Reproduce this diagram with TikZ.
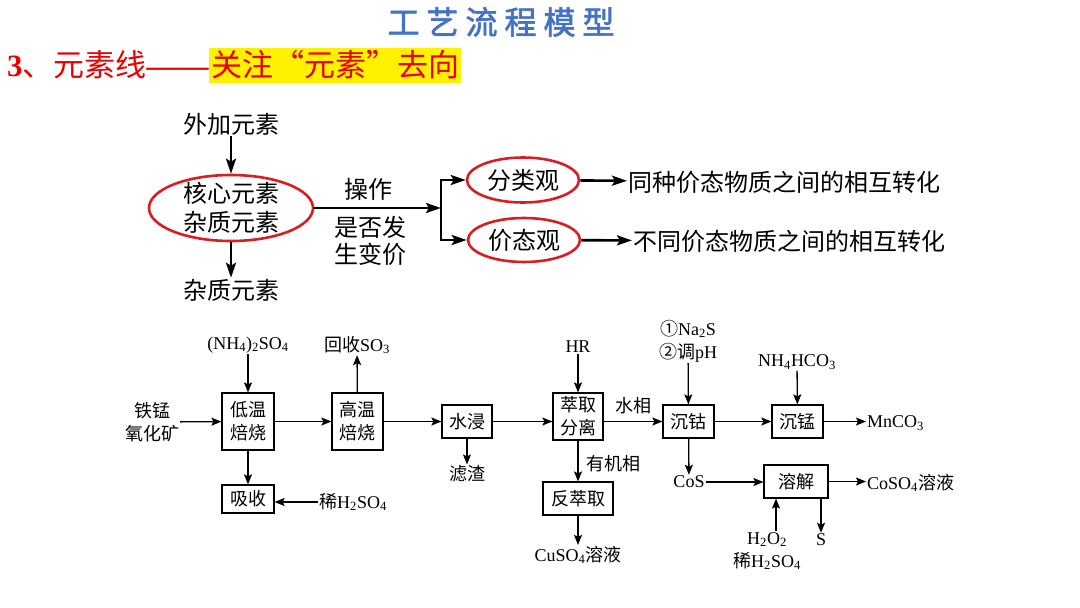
\documentclass[tikz,border=0pt]{standalone}
\usepackage{fontspec}
\setmainfont{Liberation Serif}
\newfontfamily\cjk{Noto Sans CJK SC}
\newfontfamily\titlefont{Noto Sans CJK SC}[FakeBold=2]
\usetikzlibrary{arrows.meta,shapes.geometric}
\newcommand\sbs[1]{\textsubscript{#1}}
\newcommand\fm[1]{{\rmfamily #1}}
\definecolor{titleblue}{RGB}{68,114,196}
\definecolor{ellred}{RGB}{215,30,35}
\definecolor{headred}{RGB}{235,0,0}
\tikzset{
  bigtxt/.style={font=\cjk\fontsize{24}{29}\selectfont, align=center, inner sep=1pt},
  smtxt/.style={font=\cjk\fontsize{18}{23}\selectfont, align=center, inner sep=1pt},
  redell/.style={ellipse, draw=ellred, line width=2.6pt, inner sep=0pt},
  bigarr/.style={line width=2.6pt, -{Stealth[length=15pt,width=10pt,inset=3pt]}},
  procbox/.style={draw, line width=1.2pt, smtxt, inner sep=0pt},
  arr/.style={line width=1.3pt, -{Stealth[length=10pt,width=8pt,inset=2pt]}},
}
\begin{document}
\begin{tikzpicture}[x=1pt,y=-1pt]
\useasboundingbox (0,0) rectangle (1080,608);
\fill[white] (0,0) rectangle (1080,608);

% title and heading
\node[font=\titlefont\fontsize{32}{36}\selectfont, text=titleblue, inner sep=0pt] (title) at (501,22)
  {工\hspace{7pt}艺\hspace{7pt}流\hspace{7pt}程\hspace{7pt}模\hspace{7pt}型};
\node[anchor=west, font=\cjk\fontsize{31}{34}\selectfont, text=headred, inner sep=0pt] (head) at (7,65)
  {\textbf{\rmfamily 3}、元素线{\rmfamily\bfseries ——}};
\node[anchor=west, font=\cjk\fontsize{31}{34}\selectfont, text=headred, fill=yellow,
  inner xsep=2pt, inner ysep=0pt, minimum height=35pt] (headhl) at (head.east) {关注“元素”去向};

% top concept diagram
\node[bigtxt] (wj) at (231,124) {外加元素};
\node[redell, minimum width=164pt, minimum height=66pt] (core) at (231,208) {};
\node[bigtxt] (coretxt) at (core) {核心元素\\杂质元素};
\node[bigtxt] (zz) at (231,290) {杂质元素};
\draw[bigarr] (wj) -- (core);
\draw[bigarr] (core) -- (zz);
\coordinate (br) at (441,208);
\draw[bigarr] (core) -- (br);
\node[bigtxt] (cz) at (368,189) {操作};
\node[bigtxt, font=\cjk\fontsize{24}{27}\selectfont] (sf) at (370,241) {是否发\\生变价};

\node[redell, minimum width=112pt, minimum height=45pt] (fl) at (523,180) {};
\node[bigtxt] (fltxt) at (fl) {分类观};
\node[redell, minimum width=112pt, minimum height=44pt] (jt) at (524,240) {};
\node[bigtxt] (jttxt) at (jt) {价态观};
\draw[bigarr] (br) |- (fl);
\draw[bigarr] (br) |- (jt);
\node[bigtxt, anchor=west] (t1) at (627,182) {同种价态物质之间的相互转化};
\node[bigtxt, anchor=west] (t2) at (632,241) {不同价态物质之间的相互转化};
\draw[bigarr] (fl) -- (t1);
\draw[bigarr] (jt) -- (t2);

% bottom process flow
\node[smtxt] (ore) at (152,422) {铁锰\\氧化矿};
\node[procbox, minimum width=52pt, minimum height=57pt] (dw) at (248,421.5) {低温\\焙烧};
\node[smtxt] (nh) at (248,345) {\fm{(NH\sbs4)\sbs2SO\sbs4}};
\draw[arr] (ore) -- (dw);
\draw[arr] (nh) -- (dw);
\node[procbox, minimum width=51pt, minimum height=57pt] (gw) at (357.5,421.5) {高温\\焙烧};
\draw[arr] (dw) -- (gw);
\node[smtxt] (hs) at (357,345) {回收\fm{SO\sbs3}};
\draw[arr] (gw) -- (hs);
\node[procbox, minimum width=52pt, minimum height=28pt] (xs) at (248,499) {吸收};
\draw[arr] (dw) -- (xs);
\node[smtxt, anchor=west] (xh) at (318,502) {稀\fm{H\sbs2SO\sbs4}};
\draw[arr] (xh.west) -- (xh.west -| xs.east);

\node[procbox, minimum width=50pt, minimum height=33pt] (sj) at (467,421.5) {水浸};
\draw[arr] (gw) -- (sj);
\node[smtxt] (lz) at (467,474) {滤渣};
\draw[arr] (sj) -- (lz);

\node[procbox, minimum width=50pt, minimum height=47pt] (cq) at (578,416.5) {萃取\\分离};
\draw[arr] (sj) -- (sj -| cq.west);
\node[smtxt] (hr) at (578,347) {\fm{HR}};
\draw[arr] (hr) -- (cq);

\node[procbox, minimum width=51pt, minimum height=33pt] (cg) at (688.5,421.5) {沉钴};
\draw[arr] (cg -| cq.east) -- (cg);
\node[smtxt] (sx) at (633,406) {水相};

\node[procbox, minimum width=70pt, minimum height=33pt] (fcq) at (578,498.5) {反萃取};
\draw[arr] (cq) -- (fcq);
\node[smtxt] (yj) at (613,464) {有机相};
\node[smtxt] (cu) at (578,555) {\fm{CuSO\sbs4}溶液};
\draw[arr] (fcq) -- (cu);

\node[smtxt] (na) at (688,341) {①\fm{Na\sbs2S}\\②调\fm{pH}};
\draw[arr] (na) -- (cg);

\node[procbox, minimum width=51pt, minimum height=33pt] (cm) at (797.5,421.5) {沉锰};
\draw[arr] (cg) -- (cm);
\node[smtxt] (nhh) at (797,362) {\fm{NH\sbs4HCO\sbs3}};
\draw[arr] (nhh) -- (cm);
\node[smtxt, anchor=west] (mn) at (866,423) {\fm{MnCO\sbs3}};
\draw[arr] (cm) -- (cm -| mn.west);

\node[smtxt] (cos) at (689,482) {\fm{CoS}};
\draw[arr] (cg) -- (cos);
\node[procbox, minimum width=64pt, minimum height=33pt] (rj) at (796,481.5) {溶解};
\draw[arr] (cos) -- (cos -| rj.west);
\node[smtxt, anchor=west] (cso) at (866,483) {\fm{CoSO\sbs4}溶液};
\draw[arr] (rj) -- (rj -| cso.west);
\node[smtxt] (h2o2) at (767,551) {\fm{H\sbs2O\sbs2}\\稀\fm{H\sbs2SO\sbs4}};
\draw[arr] ([xshift=9pt]h2o2.north) -- ([xshift=9pt]h2o2.north |- rj.south);
\node[smtxt] (s) at (821,540) {\fm{S}};
\draw[arr] (rj.south -| s) -- (s);
\end{tikzpicture}
\end{document}
